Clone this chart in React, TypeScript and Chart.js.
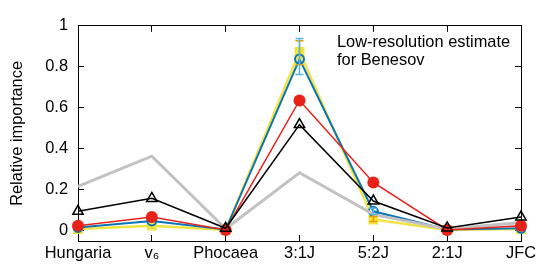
import { useEffect, useRef } from "react";
import { Chart, registerables } from "chart.js";

Chart.register(...registerables);

const categories = ["Hungaria", "v₆", "Phocaea", "3:1J", "5:2J", "2:1J", "JFC"];
const grayValues = [0.217, 0.364, 0.01, 0.283, 0.08, 0.008, 0.04];
const blackValues = [0.095, 0.158, 0.012, 0.518, 0.145, 0.014, 0.067];
const redValues = [0.025, 0.067, 0.004, 0.636, 0.236, 0.004, 0.024];
const blueValues = [0.016, 0.048, 0.006, 0.838, 0.095, 0.006, 0.012];
const yellowValues = [0.008, 0.025, 0.004, 0.873, 0.055, 0.004, 0.008];
const blueErrLow = [null, null, null, 0.763, 0.08, null, null];
const blueErrHigh = [null, null, null, 0.938, 0.11, null, null];
const yellowErrLow = [null, null, null, 0.81, 0.045, null, null];
const yellowErrHigh = [null, null, null, 0.927, 0.07, null, null];
const yTickValues = [0, 0.2, 0.4, 0.6, 0.8, 1];
const yMin = -0.05;
const yMax = 1;
const annotationLines = ["Low-resolution estimate", "for Benesov"];
const yTitle = "Relative importance";

const FONT = "'Liberation Sans', Arial, Helvetica, sans-serif";
const FS = 16.4;

const frameGrid = {
  display: true,
  drawOnChartArea: false,
  drawTicks: true,
  tickLength: -6,
  color: "#000000",
  tickColor: "#000000",
  lineWidth: 1,
};
const frameBorder = { display: true, color: "#000000", width: 1 };

export default function App() {
  const ref = useRef<HTMLCanvasElement | null>(null);
  useEffect(() => {
    document.body.style.margin = "0";
    const canvas = ref.current;
    if (!canvas) return;

    const overlay = {
      id: "overlayMarks",
      afterDatasetsDraw(chart: any) {
        const ctx = chart.ctx;
        const xs = chart.scales.x;
        const ys = chart.scales.y;
        const draw = (lo: (number | null)[], hi: (number | null)[], color: string) => {
          ctx.save();
          ctx.strokeStyle = color;
          ctx.lineWidth = 1.5;
          ctx.beginPath();
          lo.forEach((l, i) => {
            const h = hi[i];
            if (l === null || h === null) return;
            const x = xs.getPixelForValue(i);
            const y1 = ys.getPixelForValue(l);
            const y2 = ys.getPixelForValue(h);
            ctx.moveTo(x, y1);
            ctx.lineTo(x, y2);
            ctx.moveTo(x - 4, y1);
            ctx.lineTo(x + 4, y1);
            ctx.moveTo(x - 4, y2);
            ctx.lineTo(x + 4, y2);
          });
          ctx.stroke();
          ctx.restore();
        };
        draw(yellowErrLow, yellowErrHigh, "#e69f00");
        draw(blueErrLow, blueErrHigh, "#56b4e9");

        ctx.save();
        ctx.fillStyle = "#000000";
        ctx.font = `${FS}px ${FONT}`;
        ctx.textBaseline = "middle";
        ctx.textAlign = "left";
        annotationLines.forEach((t, i) => {
          ctx.fillText(t, 337, 42 + i * 18.3);
        });
        ctx.restore();
      },
    };

    const chart = new Chart(canvas, {
      type: "line",
      data: {
        labels: categories,
        datasets: [
          {
            data: blackValues,
            borderColor: "#000000",
            backgroundColor: "rgba(0,0,0,0)",
            borderWidth: 1.5,
            pointStyle: "triangle",
            pointRadius: 6,
            pointBorderWidth: 1.5,
            pointBorderColor: "#000000",
            pointBackgroundColor: "rgba(0,0,0,0)",
          },
          {
            data: redValues,
            borderColor: "#e8221a",
            backgroundColor: "#e8221a",
            borderWidth: 1.5,
            pointStyle: "circle",
            pointRadius: 6,
            pointBorderWidth: 0,
            pointBackgroundColor: "#e8221a",
          },
          {
            data: grayValues,
            borderColor: "#c2c2c2",
            borderWidth: 3,
            pointRadius: 0,
          },
          {
            data: blueValues,
            borderColor: "#0a74b5",
            backgroundColor: "rgba(0,0,0,0)",
            borderWidth: 2,
            pointStyle: "circle",
            pointRadius: 4.5,
            pointBorderWidth: 2,
            pointBorderColor: "#0a74b5",
            pointBackgroundColor: "rgba(0,0,0,0)",
          },
          {
            data: yellowValues,
            borderColor: "#f0e442",
            backgroundColor: "#f0e442",
            borderWidth: 2.5,
            pointStyle: "rect",
            pointRadius: 7,
            pointBorderWidth: 0,
            pointBackgroundColor: "#f0e442",
          },
        ],
      },
      plugins: [overlay],
      options: {
        animation: false,
        responsive: false,
        devicePixelRatio: 1,
        layout: { padding: { top: 17, right: 27, left: 0, bottom: 0 } },
        plugins: { legend: { display: false }, tooltip: { enabled: false } },
        elements: { line: { tension: 0 } },
        scales: {
          x: {
            type: "category",
            position: "bottom",
            offset: false,
            grid: frameGrid,
            border: frameBorder,
            ticks: {
              color: "#000",
              padding: 9,
              maxRotation: 0,
              autoSkip: false,
              font: { family: FONT, size: FS },
            },
            afterFit(scale: any) {
              scale.height = 33;
            },
          },
          x2: {
            type: "category",
            position: "top",
            offset: false,
            grid: frameGrid,
            border: frameBorder,
            ticks: { display: false, autoSkip: false },
            afterFit(scale: any) {
              scale.height = 0;
            },
          },
          y: {
            type: "linear",
            position: "left",
            min: yMin,
            max: yMax,
            grid: frameGrid,
            border: frameBorder,
            afterBuildTicks(scale: any) {
              scale.ticks = yTickValues.map((v) => ({ value: v }));
            },
            ticks: {
              color: "#000",
              padding: 16,
              font: { family: FONT, size: FS },
              callback: (v: any) => String(Number(Number(v).toFixed(1))),
            },
            title: {
              display: true,
              text: yTitle,
              color: "#000",
              padding: { top: 8, bottom: 0 },
              font: { family: FONT, size: FS },
            },
            afterFit(scale: any) {
              scale.width = 78;
            },
          },
          y2: {
            type: "linear",
            position: "right",
            min: yMin,
            max: yMax,
            grid: frameGrid,
            border: frameBorder,
            afterBuildTicks(scale: any) {
              scale.ticks = yTickValues.map((v) => ({ value: v }));
            },
            ticks: { display: false },
            afterFit(scale: any) {
              scale.width = 0;
            },
          },
        },
      },
    });
    return () => chart.destroy();
  }, []);
  return (
    <div style={{ width: 548, height: 274 }}>
      <canvas ref={ref} width={548} height={274} />
    </div>
  );
}
